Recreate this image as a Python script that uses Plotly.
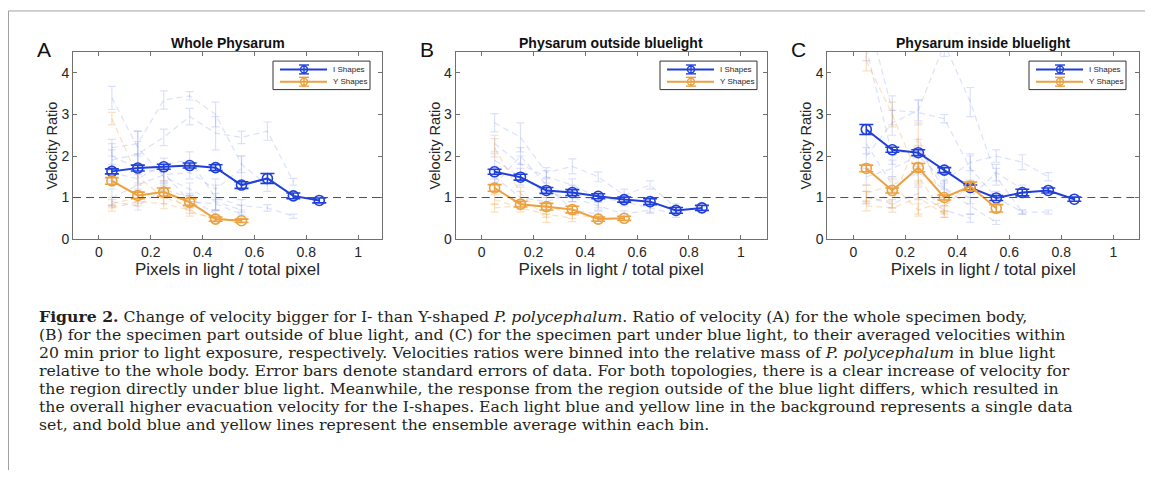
import plotly.graph_objects as go

x_bins = [0.05, 0.15, 0.25, 0.35, 0.45, 0.55, 0.65, 0.75, 0.85]

panel_titles = ["Whole Physarum", "Physarum outside bluelight", "Physarum inside bluelight"]
panel_letters = ["A", "B", "C"]
legend_names = ["I Shapes", "Y Shapes"]
x_ticks = [0, 0.2, 0.4, 0.6, 0.8, 1]
x_tick_labels = ["0", "0.2", "0.4", "0.6", "0.8", "1"]
y_ticks = [0, 1, 2, 3, 4]
y_tick_labels = ["0", "1", "2", "3", "4"]

# ---- Panel A: whole Physarum ----
a_i_mean = [1.63, 1.71, 1.74, 1.77, 1.72, 1.30, 1.46, 1.04, 0.93]
a_i_err = [0.06, 0.07, 0.06, 0.06, 0.07, 0.08, 0.12, 0.07, 0.06]
a_y_mean = [1.40, 1.05, 1.13, 0.89, 0.48, 0.44]
a_y_err = [0.08, 0.08, 0.10, 0.08, 0.05, 0.04]
a_i_bg = [
    [3.40, 2.20, 1.50, 1.20, 0.90, 0.70],
    [2.20, 2.30, 3.35, 3.45, 3.00, 1.80, 1.30],
    [1.90, 2.05, 2.45, 2.95, 2.55, 2.45, 2.60, 1.38],
    [1.60, 1.45, 1.80, 1.90, 1.00, 0.80, 0.75, 0.55],
    [1.00, 1.30, 1.55, 1.60, 1.20, 1.70],
    [0.90, 0.80, 1.20, 1.00, 0.60],
    [2.00, 1.70, 1.60, 0.90, 0.85, 0.60],
]
a_i_bg_err = [
    [0.28, 0.40, 0.20, 0.15, 0.20, 0.12],
    [0.20, 0.30, 0.22, 0.10, 0.30, 0.20, 0.15],
    [0.25, 0.30, 0.20, 0.20, 0.40, 0.15, 0.22, 0.08],
    [0.20, 0.25, 0.15, 0.20, 0.30, 0.15, 0.08, 0.05],
    [0.20, 0.25, 0.20, 0.15, 0.25, 0.30],
    [0.10, 0.10, 0.15, 0.10, 0.08],
    [0.30, 0.35, 0.20, 0.15, 0.15, 0.10],
]
a_y_bg = [
    [2.90, 1.50, 1.00, 0.80],
    [0.75, 0.90, 0.85, 0.70, 0.45],
    [0.85, 1.00, 1.20, 0.65, 0.50, 0.45],
]
a_y_bg_err = [
    [0.15, 0.20, 0.15, 0.10],
    [0.08, 0.10, 0.12, 0.08, 0.05],
    [0.10, 0.15, 0.20, 0.10, 0.06, 0.05],
]

# ---- Panel B: outside blue light ----
b_i_mean = [1.62, 1.49, 1.17, 1.12, 1.03, 0.95, 0.90, 0.69, 0.75]
b_i_err = [0.06, 0.07, 0.07, 0.07, 0.06, 0.06, 0.07, 0.07, 0.06]
b_y_mean = [1.23, 0.84, 0.78, 0.71, 0.48, 0.50]
b_y_err = [0.08, 0.07, 0.08, 0.08, 0.05, 0.05]
b_i_bg = [
    [2.80, 2.45, 1.60, 1.75, 1.50, 1.05, 1.30, 0.75],
    [2.30, 1.80, 1.50, 1.30, 1.00, 0.90, 0.75, 0.60],
    [1.90, 1.50, 1.10, 1.00, 0.80, 0.60, 0.70],
    [1.50, 1.00, 0.90, 1.10, 0.90],
    [1.30, 2.00, 1.30, 0.70, 0.60],
]
b_i_bg_err = [
    [0.22, 0.35, 0.12, 0.18, 0.12, 0.15, 0.10, 0.10],
    [0.20, 0.20, 0.15, 0.15, 0.12, 0.10, 0.10, 0.08],
    [0.15, 0.20, 0.10, 0.10, 0.10, 0.08, 0.08],
    [0.15, 0.15, 0.10, 0.20, 0.15],
    [0.15, 0.20, 0.15, 0.10, 0.08],
]
b_y_bg = [
    [2.20, 1.10, 0.50],
    [0.75, 0.80, 0.80, 0.60, 0.50],
    [0.95, 0.75, 0.60, 0.50],
]
b_y_bg_err = [
    [0.22, 0.15, 0.10],
    [0.10, 0.08, 0.08, 0.10, 0.05],
    [0.12, 0.10, 0.08, 0.08],
]

# ---- Panel C: inside blue light ----
c_i_mean = [2.64, 2.15, 2.08, 1.66, 1.24, 0.99, 1.12, 1.17, 0.96]
c_i_err = [0.12, 0.06, 0.07, 0.06, 0.06, 0.06, 0.08, 0.06, 0.05]
c_y_mean = [1.70, 1.17, 1.72, 1.00, 1.27, 0.74]
c_y_err = [0.08, 0.06, 0.10, 0.06, 0.10, 0.09]
c_i_bg = [
    [5.50, 3.10, 3.05, 2.90, 1.70, 1.00, 0.65, 0.65],
    [4.60, 2.00, 2.20, 1.20, 0.80, 0.40],
    [2.00, 2.80, 3.10, 4.70, 3.30, 1.50, 0.65],
    [1.50, 1.70, 2.00, 1.40, 1.85, 2.00, 1.85, 1.50],
    [1.00, 0.85, 1.10, 0.70, 0.50],
    [2.30, 1.30, 1.60, 1.20, 1.00, 1.60, 1.20],
]
c_i_bg_err = [
    [0.30, 0.35, 0.30, 0.10, 0.30, 0.15, 0.05, 0.05],
    [0.30, 0.20, 0.20, 0.15, 0.20, 0.05],
    [0.20, 0.30, 0.25, 0.30, 0.35, 0.20, 0.05],
    [0.20, 0.20, 0.25, 0.20, 0.20, 0.15, 0.18, 0.10],
    [0.15, 0.10, 0.15, 0.10, 0.10],
    [0.25, 0.20, 0.25, 0.20, 0.15, 0.20, 0.10],
]
c_y_bg = [
    [4.30, 3.00, 1.50, 0.60],
    [1.00, 0.90, 2.45, 0.80, 1.30],
    [0.80, 0.75, 1.00, 0.60],
    [1.10, 1.30, 0.70, 0.90],
]
c_y_bg_err = [
    [0.25, 0.30, 0.20, 0.08],
    [0.15, 0.15, 0.35, 0.15, 0.12],
    [0.12, 0.10, 0.40, 0.08],
    [0.20, 0.15, 0.15, 0.10],
]

panels = [
    dict(i_mean=a_i_mean, i_err=a_i_err, y_mean=a_y_mean, y_err=a_y_err,
         i_bg=a_i_bg, i_bg_err=a_i_bg_err, y_bg=a_y_bg, y_bg_err=a_y_bg_err),
    dict(i_mean=b_i_mean, i_err=b_i_err, y_mean=b_y_mean, y_err=b_y_err,
         i_bg=b_i_bg, i_bg_err=b_i_bg_err, y_bg=b_y_bg, y_bg_err=b_y_bg_err),
    dict(i_mean=c_i_mean, i_err=c_i_err, y_mean=c_y_mean, y_err=c_y_err,
         i_bg=c_i_bg, i_bg_err=c_i_bg_err, y_bg=c_y_bg, y_bg_err=c_y_bg_err),
]

caption_lines = [
    "<b>Figure 2.</b> Change of velocity bigger for I- than Y-shaped <i>P. polycephalum</i>. Ratio of velocity (A) for the whole specimen body,",
    "(B) for the specimen part outside of blue light, and (C) for the specimen part under blue light, to their averaged velocities within",
    "20 min prior to light exposure, respectively. Velocities ratios were binned into the relative mass of <i>P. polycephalum</i> in blue light",
    "relative to the whole body. Error bars denote standard errors of data. For both topologies, there is a clear increase of velocity for",
    "the region directly under blue light. Meanwhile, the response from the region outside of the blue light differs, which resulted in",
    "the overall higher evacuation velocity for the I-shapes. Each light blue and yellow line in the background represents a single data",
    "set, and bold blue and yellow lines represent the ensemble average within each bin.",
]

# ---- styling / layout ----
BLUE = "#1f3fd8"
ORANGE = "#eba13f"
BLUE_BG = "rgba(80,105,230,0.20)"
ORANGE_BG = "rgba(235,160,60,0.32)"
SANS = "Liberation Sans, Arial, Helvetica, sans-serif"
SERIF = "DejaVu Serif, Liberation Serif, serif"
TXT = "#262626"

# the page body has an 8px margin: figure pixel = page pixel - 8
OFF = 8
W, H = 1153 - OFF, 482 - OFF

def fx(p):
    return (p - OFF) / W

def fy(p):
    return 1 - (p - OFF) / H

# page-pixel boxes for the three axes (left, right)
px_boxes = [(73, 382), (455.7, 766.7), (827.3, 1139.3)]
x_ranges = [[-0.1, 1.092], [-0.1, 1.1], [-0.1, 1.1]]
top_px, bot_px = 53, 243
legend_right = [370, 757, 1126]
LEG_W, LEG_H = 97, 29

fig = go.Figure()
layout = dict(width=W, height=H, margin=dict(l=0, r=0, t=0, b=0),
              paper_bgcolor="white", plot_bgcolor="white", showlegend=False,
              font=dict(family=SANS, color=TXT))
shapes = []
annotations = []

for k, pdat in enumerate(panels):
    sfx = "" if k == 0 else str(k + 1)
    xa, ya = "x" + sfx, "y" + sfx
    # background single data sets
    for vals, errs in zip(pdat["i_bg"], pdat["i_bg_err"]):
        fig.add_trace(go.Scatter(
            x=x_bins[:len(vals)], y=vals, mode="lines", xaxis=xa, yaxis=ya,
            line=dict(color=BLUE_BG, width=1.2, dash="6px,4px"),
            error_y=dict(type="data", array=errs, color=BLUE_BG, thickness=1.2, width=4),
            showlegend=False, hoverinfo="skip"))
    for vals, errs in zip(pdat["y_bg"], pdat["y_bg_err"]):
        fig.add_trace(go.Scatter(
            x=x_bins[:len(vals)], y=vals, mode="lines", xaxis=xa, yaxis=ya,
            line=dict(color=ORANGE_BG, width=1.2, dash="6px,4px"),
            error_y=dict(type="data", array=errs, color=ORANGE_BG, thickness=1.2, width=4),
            showlegend=False, hoverinfo="skip"))
    # ensemble averages
    for name, mean, err, col in [(legend_names[0], pdat["i_mean"], pdat["i_err"], BLUE),
                                 (legend_names[1], pdat["y_mean"], pdat["y_err"], ORANGE)]:
        fig.add_trace(go.Scatter(
            x=x_bins[:len(mean)], y=mean, mode="lines+markers",
            xaxis=xa, yaxis=ya, name=name, showlegend=False,
            line=dict(color=col, width=2),
            marker=dict(symbol="circle-open", size=10, color=col, line=dict(width=1.6, color=col)),
            error_y=dict(type="data", array=err, color=col, thickness=1.6, width=7)))

    l, r = px_boxes[k]
    axcommon = dict(showgrid=False, zeroline=False, showline=True, linecolor="#707070",
                    linewidth=1, mirror="ticks", ticks="inside", ticklen=4,
                    tickcolor="#707070", tickfont=dict(size=14, color=TXT, family=SANS))
    layout["xaxis" + sfx] = dict(axcommon, domain=[fx(l), fx(r)], range=x_ranges[k],
                                 anchor=ya, tickvals=x_ticks, ticktext=x_tick_labels,
                                 title=dict(text="Pixels in light / total pixel",
                                            font=dict(size=17, color=TXT, family=SANS), standoff=4))
    layout["yaxis" + sfx] = dict(axcommon, domain=[fy(bot_px), fy(top_px)], range=[0, 4.5],
                                 anchor=xa, tickvals=y_ticks, ticktext=y_tick_labels,
                                 title=dict(text="Velocity Ratio",
                                            font=dict(size=14.5, color=TXT, family=SANS), standoff=0))
    # dashed reference line at ratio 1
    shapes.append(dict(type="line", xref=xa + " domain", yref=ya, x0=0, x1=1, y0=1, y1=1,
                       line=dict(color="#505050", width=1, dash="8px,5px")))
    # legend box (drawn to match the compact MATLAB legend)
    lr = legend_right[k]
    ll = lr - LEG_W
    lt = 62
    shapes.append(dict(type="rect", xref="paper", yref="paper", x0=fx(ll), x1=fx(lr),
                       y0=fy(lt + LEG_H), y1=fy(lt), line=dict(color="#333333", width=1),
                       fillcolor="white", layer="above"))
    for j, (name, col) in enumerate([(legend_names[0], BLUE), (legend_names[1], ORANGE)]):
        yc = lt + 8.5 + 12.5 * j
        cx = ll + 31
        shapes.append(dict(type="line", xref="paper", yref="paper", x0=fx(ll + 7), x1=fx(ll + 54),
                           y0=fy(yc), y1=fy(yc), line=dict(color=col, width=2), layer="above"))
        shapes.append(dict(type="circle", xref="paper", yref="paper", x0=fx(cx - 3.5), x1=fx(cx + 3.5),
                           y0=fy(yc + 3.5), y1=fy(yc - 3.5), line=dict(color=col, width=1.4), layer="above"))
        for dy in (-4.5, 4.5):
            shapes.append(dict(type="line", xref="paper", yref="paper", x0=fx(cx - 5), x1=fx(cx + 5),
                               y0=fy(yc + dy), y1=fy(yc + dy), line=dict(color=col, width=1.4), layer="above"))
        shapes.append(dict(type="line", xref="paper", yref="paper", x0=fx(cx), x1=fx(cx),
                           y0=fy(yc - 4.5), y1=fy(yc + 4.5), line=dict(color=col, width=1.4), layer="above"))
        annotations.append(dict(text=name, xref="paper", yref="paper", x=fx(ll + 58), y=fy(yc),
                                xanchor="left", yanchor="middle", showarrow=False,
                                font=dict(size=8, color=TXT, family=SANS)))
    # title and panel letter
    annotations.append(dict(text="<b>" + panel_titles[k] + "</b>", xref="paper", yref="paper",
                            x=fx((l + r) / 2), y=fy(44), xanchor="center", yanchor="middle",
                            showarrow=False, font=dict(size=14, color="#111111", family=SANS)))
    annotations.append(dict(text=panel_letters[k], xref="paper", yref="paper",
                            x=fx(l - 38), y=fy(50), xanchor="left", yanchor="middle",
                            showarrow=False, font=dict(size=21, color="#111111", family=SANS)))

# figure frame lines
shapes.append(dict(type="line", xref="paper", yref="paper", x0=fx(8.5), x1=1, y0=fy(11), y1=fy(11),
                   line=dict(color="#a0a0a0", width=1)))
shapes.append(dict(type="line", xref="paper", yref="paper", x0=fx(8.5), x1=fx(8.5), y0=fy(11), y1=fy(478),
                   line=dict(color="#a0a0a0", width=1)))

# caption
for i, line in enumerate(caption_lines):
    annotations.append(dict(text=line, xref="paper", yref="paper", x=fx(37), y=fy(321.5 + 18.3 * i),
                            xanchor="left", yanchor="middle", showarrow=False, align="left",
                            font=dict(size=15.7, color="#231f20", family=SERIF)))

layout["shapes"] = shapes
layout["annotations"] = annotations
fig.update_layout(**layout)
fig.write_html("out.html")
